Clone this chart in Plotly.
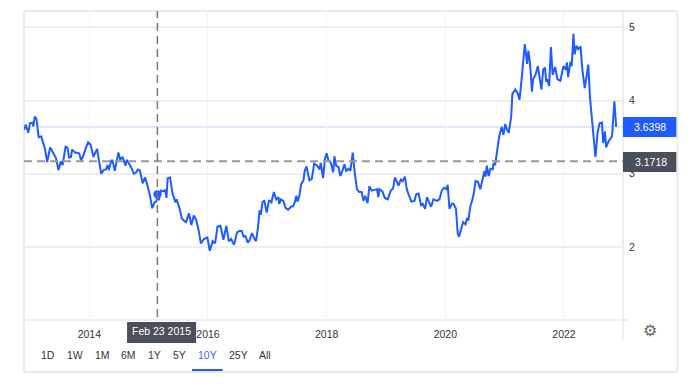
import plotly.graph_objects as go

years = [2012.90,2012.93,2012.97,2013.00,2013.04,2013.056,2013.08,2013.11,2013.146,2013.19,2013.25,2013.29,2013.34,2013.40,2013.44,2013.48,2013.52,2013.55,2013.60,2013.63,2013.66,2013.69,2013.71,2013.76,2013.80,2013.83,2013.86,2013.90,2013.94,2013.98,
2014.02,2014.07,2014.13,2014.17,2014.20,2014.24,2014.28,2014.31,2014.33,2014.37,2014.39,2014.43,2014.49,2014.52,2014.56,2014.61,2014.63,2014.66,2014.71,2014.75,2014.79,2014.82,2014.85,2014.90,2014.94,2014.98,
2015.02,2015.06,2015.10,2015.13,2015.147,2015.17,2015.21,2015.25,2015.28,2015.30,2015.32,2015.36,2015.40,2015.45,2015.47,2015.52,2015.56,2015.61,2015.63,2015.68,2015.72,2015.76,2015.80,2015.84,2015.88,2015.93,2015.99,
2016.03,2016.08,2016.12,2016.16,2016.21,2016.26,2016.31,2016.35,2016.39,2016.42,2016.44,2016.49,2016.53,2016.57,2016.60,2016.63,2016.67,2016.70,2016.74,2016.78,2016.81,2016.84,2016.87,2016.89,2016.92,2016.95,2016.99,
2017.03,2017.07,2017.11,2017.15,2017.19,2017.20,2017.23,2017.27,2017.31,2017.35,2017.40,2017.44,2017.47,2017.49,2017.51,2017.54,2017.57,2017.61,2017.63,2017.66,2017.71,2017.75,2017.79,2017.84,2017.88,2017.90,2017.94,2017.97,
2018.00,2018.03,2018.07,2018.11,2018.13,2018.16,2018.20,2018.23,2018.27,2018.30,2018.33,2018.37,2018.40,2018.44,2018.47,2018.51,2018.55,2018.59,2018.62,2018.65,2018.69,2018.72,2018.76,2018.80,2018.85,2018.87,2018.89,2018.94,2018.98,
2019.03,2019.08,2019.12,2019.15,2019.18,2019.21,2019.25,2019.28,2019.32,2019.35,2019.39,2019.43,2019.48,2019.51,2019.55,2019.59,2019.62,2019.66,2019.69,2019.73,2019.76,2019.80,2019.86,2019.90,2019.94,2019.98,
2020.02,2020.04,2020.07,2020.11,2020.14,2020.18,2020.21,2020.23,2020.26,2020.30,2020.34,2020.37,2020.39,2020.42,2020.45,2020.48,2020.51,2020.55,2020.59,2020.64,2020.66,2020.68,2020.70,2020.73,2020.76,2020.80,2020.81,2020.84,2020.87,2020.91,2020.95,2020.98,
2021.01,2021.04,2021.07,2021.11,2021.13,2021.18,2021.22,2021.25,2021.28,2021.31,2021.34,2021.38,2021.40,2021.43,2021.46,2021.48,2021.52,2021.56,2021.59,2021.62,2021.65,2021.68,2021.70,2021.72,2021.75,2021.78,2021.81,2021.85,2021.89,2021.94,2021.99,
2022.03,2022.05,2022.07,2022.11,2022.13,2022.16,2022.18,2022.21,2022.24,2022.28,2022.31,2022.35,2022.38,2022.41,2022.44,2022.47,2022.50,2022.53,2022.57,2022.60,2022.64,2022.66,2022.69,2022.71,2022.75,2022.81,2022.85,2022.88]

values = [3.60,3.67,3.56,3.69,3.70,3.645,3.78,3.745,3.50,3.51,3.35,3.16,3.36,3.28,3.21,3.05,3.17,3.12,3.37,3.36,3.22,3.23,3.33,3.29,3.29,3.28,3.18,3.25,3.35,3.43,
3.40,3.23,3.34,3.15,3.00,3.05,3.06,3.12,3.05,3.18,3.18,3.04,3.29,3.19,3.23,3.11,3.19,3.15,3.08,3.00,3.02,3.06,3.05,2.87,2.95,2.84,
2.71,2.53,2.61,2.62,2.72,2.64,2.77,2.76,2.78,2.67,2.94,2.95,2.74,2.61,2.65,2.53,2.39,2.35,2.34,2.46,2.30,2.43,2.37,2.24,2.05,2.11,2.13,
1.95,2.08,2.05,2.28,2.29,2.10,2.29,2.08,2.11,2.06,2.03,2.20,2.22,2.22,2.14,2.15,2.06,2.09,2.19,2.12,2.08,2.25,2.50,2.44,2.62,2.63,2.47,
2.64,2.61,2.75,2.65,2.68,2.59,2.65,2.63,2.53,2.51,2.55,2.56,2.63,2.70,2.62,2.70,2.86,2.91,3.04,3.10,2.91,2.93,3.14,3.11,3.06,3.15,2.94,3.20,
3.28,3.18,3.15,3.02,3.24,3.11,3.09,2.97,3.05,3.13,3.04,3.07,3.04,3.29,3.04,2.79,2.75,2.75,2.63,2.70,2.60,2.83,2.77,2.78,2.79,2.68,2.79,2.76,2.67,
2.65,2.77,2.80,2.95,2.90,2.84,2.92,2.90,2.96,2.79,2.70,2.62,2.63,2.72,2.73,2.57,2.59,2.52,2.68,2.59,2.55,2.65,2.63,2.65,2.77,2.81,
2.79,2.85,2.52,2.59,2.59,2.52,2.18,2.14,2.22,2.34,2.31,2.40,2.36,2.55,2.63,2.73,2.90,2.89,2.79,2.96,3.04,2.96,3.11,2.97,3.07,3.06,3.14,3.12,3.30,3.52,3.64,3.53,
3.68,3.60,3.56,3.78,4.09,4.15,4.10,4.01,4.24,4.47,4.77,4.50,4.68,4.49,4.12,4.29,4.35,4.47,4.33,4.15,4.42,4.45,4.27,4.28,4.20,4.73,4.35,4.46,4.29,4.27,4.47,
4.42,4.52,4.32,4.53,4.47,4.91,4.63,4.75,4.70,4.74,4.42,4.17,4.31,4.49,4.03,3.74,3.55,3.23,3.58,3.69,3.70,3.42,3.58,3.36,3.44,3.51,3.99,3.64]

x_ticks = [2014, 2016, 2018, 2020, 2022]
y_ticks = [2, 3, 4, 5]
last_value = 3.6398
cross_value = 3.1718
cross_year = 2015.147
cross_point = 2.72
cross_label = "Feb 23 2015"
buttons = ["1D", "1W", "1M", "6M", "1Y", "5Y", "10Y", "25Y", "All"]
button_px = [48, 74.5, 102, 128, 154.5, 179, 207.5, 238, 265]

W, H = 690, 387
L, R, T, B = 24, 622.7, 11, 320
BLUE = "#1f5cff"
DARK = "#4a4f5b"
FRAME = "#e8e9ec"
FS = 10.5

def px(v):
    return (v - L) / (R - L)

def py(v):
    return (B - v) / (B - T)

fig = go.Figure()
fig.add_trace(go.Scatter(x=years, y=values, mode="lines",
                         line=dict(color=BLUE, width=2), hoverinfo="skip"))
fig.add_trace(go.Scatter(x=[cross_year], y=[cross_point], mode="markers",
                         marker=dict(color=BLUE, size=8), hoverinfo="skip"))

shapes = [
    dict(type="line", xref="paper", yref="paper", x0=0, x1=0, y0=py(372), y1=1, line=dict(color=FRAME, width=2), layer="below"),
    dict(type="line", xref="paper", yref="paper", x0=0, x1=px(677), y0=1, y1=1, line=dict(color=FRAME, width=2), layer="below"),
    dict(type="line", xref="paper", yref="paper", x0=px(677), x1=px(677), y0=py(372), y1=1, line=dict(color=FRAME, width=2), layer="below"),
    dict(type="line", xref="paper", yref="paper", x0=0, x1=px(677), y0=py(372), y1=py(372), line=dict(color=FRAME, width=2), layer="below"),
    dict(type="line", xref="paper", yref="paper", x0=1, x1=1, y0=py(340), y1=1, line=dict(color=FRAME, width=1.5), layer="below"),
    dict(type="line", xref="paper", yref="paper", x0=0, x1=px(627), y0=0, y1=0, line=dict(color=FRAME, width=1.5), layer="below"),
    dict(type="line", xref="x", yref="y", x0=2013.13, x1=2022.995, y0=last_value, y1=last_value,
         line=dict(color="#7f9dff", width=1, dash="1px,1px"), layer="below"),
    dict(type="line", xref="paper", yref="y", x0=0, x1=1, y0=cross_value, y1=cross_value,
         line=dict(color="#999999", width=2, dash="8px,5px")),
    dict(type="line", xref="x", yref="paper", x0=cross_year, x1=cross_year, y0=py(343), y1=1,
         line=dict(color="#777777", width=1.5, dash="8px,5px")),
    dict(type="rect", xref="paper", yref="paper", x0=1, x1=px(676), y0=py(137), y1=py(117), fillcolor=BLUE, line=dict(width=0)),
    dict(type="rect", xref="paper", yref="paper", x0=1, x1=px(676), y0=py(172), y1=py(152), fillcolor=DARK, line=dict(width=0)),
    dict(type="rect", xref="paper", yref="paper", x0=px(127), x1=px(196), y0=py(343), y1=py(322), fillcolor=DARK, line=dict(width=0)),
    dict(type="line", xref="paper", yref="paper", x0=px(192), x1=px(222.5), y0=py(370), y1=py(370), line=dict(color=BLUE, width=2)),
]

def note(text, x, y, color="#333333", size=FS, anchor="center"):
    return dict(text=text, xref="paper", yref="paper", x=px(x), y=py(y), showarrow=False,
                xanchor=anchor, yanchor="middle", font=dict(color=color, size=size))

annotations = [
    note(f"{last_value:.4f}", 649.5, 127.3, "#ffffff"),
    note(f"{cross_value:.4f}", 650.5, 162, "#ffffff"),
    note(cross_label, 161.5, 331.3, "#ffffff"),
    note("⚙", 650, 330.5, "#666666", 16),
]
for name, pos in zip(buttons, button_px):
    annotations.append(note(name, pos, 354.5, "#3f5efb" if name == "10Y" else "#333333"))

fig.update_layout(
    width=W, height=H, margin=dict(l=L, r=W - R, t=T, b=H - B, pad=0),
    paper_bgcolor="#ffffff", plot_bgcolor="#ffffff", showlegend=False,
    font=dict(family="Liberation Sans, Arial, sans-serif", size=FS, color="#333333"),
    xaxis=dict(range=[2012.899, 2022.995], tickvals=x_ticks, ticktext=[str(t) for t in x_ticks],
               showgrid=True, gridcolor="#eff2f7", gridwidth=1, zeroline=False, showline=False,
               ticks="outside", ticklen=4, tickcolor="rgba(0,0,0,0)"),
    yaxis=dict(range=[1.004, 5.222], tickvals=y_ticks, side="right",
               showgrid=True, gridcolor="#eeeeee", gridwidth=2, zeroline=False, showline=False,
               ticks="outside", ticklen=3, tickcolor="rgba(0,0,0,0)"),
    shapes=shapes, annotations=annotations,
)
fig.write_html("out.html", config=dict(displayModeBar=False),
               post_script="document.body.style.margin='0';")
